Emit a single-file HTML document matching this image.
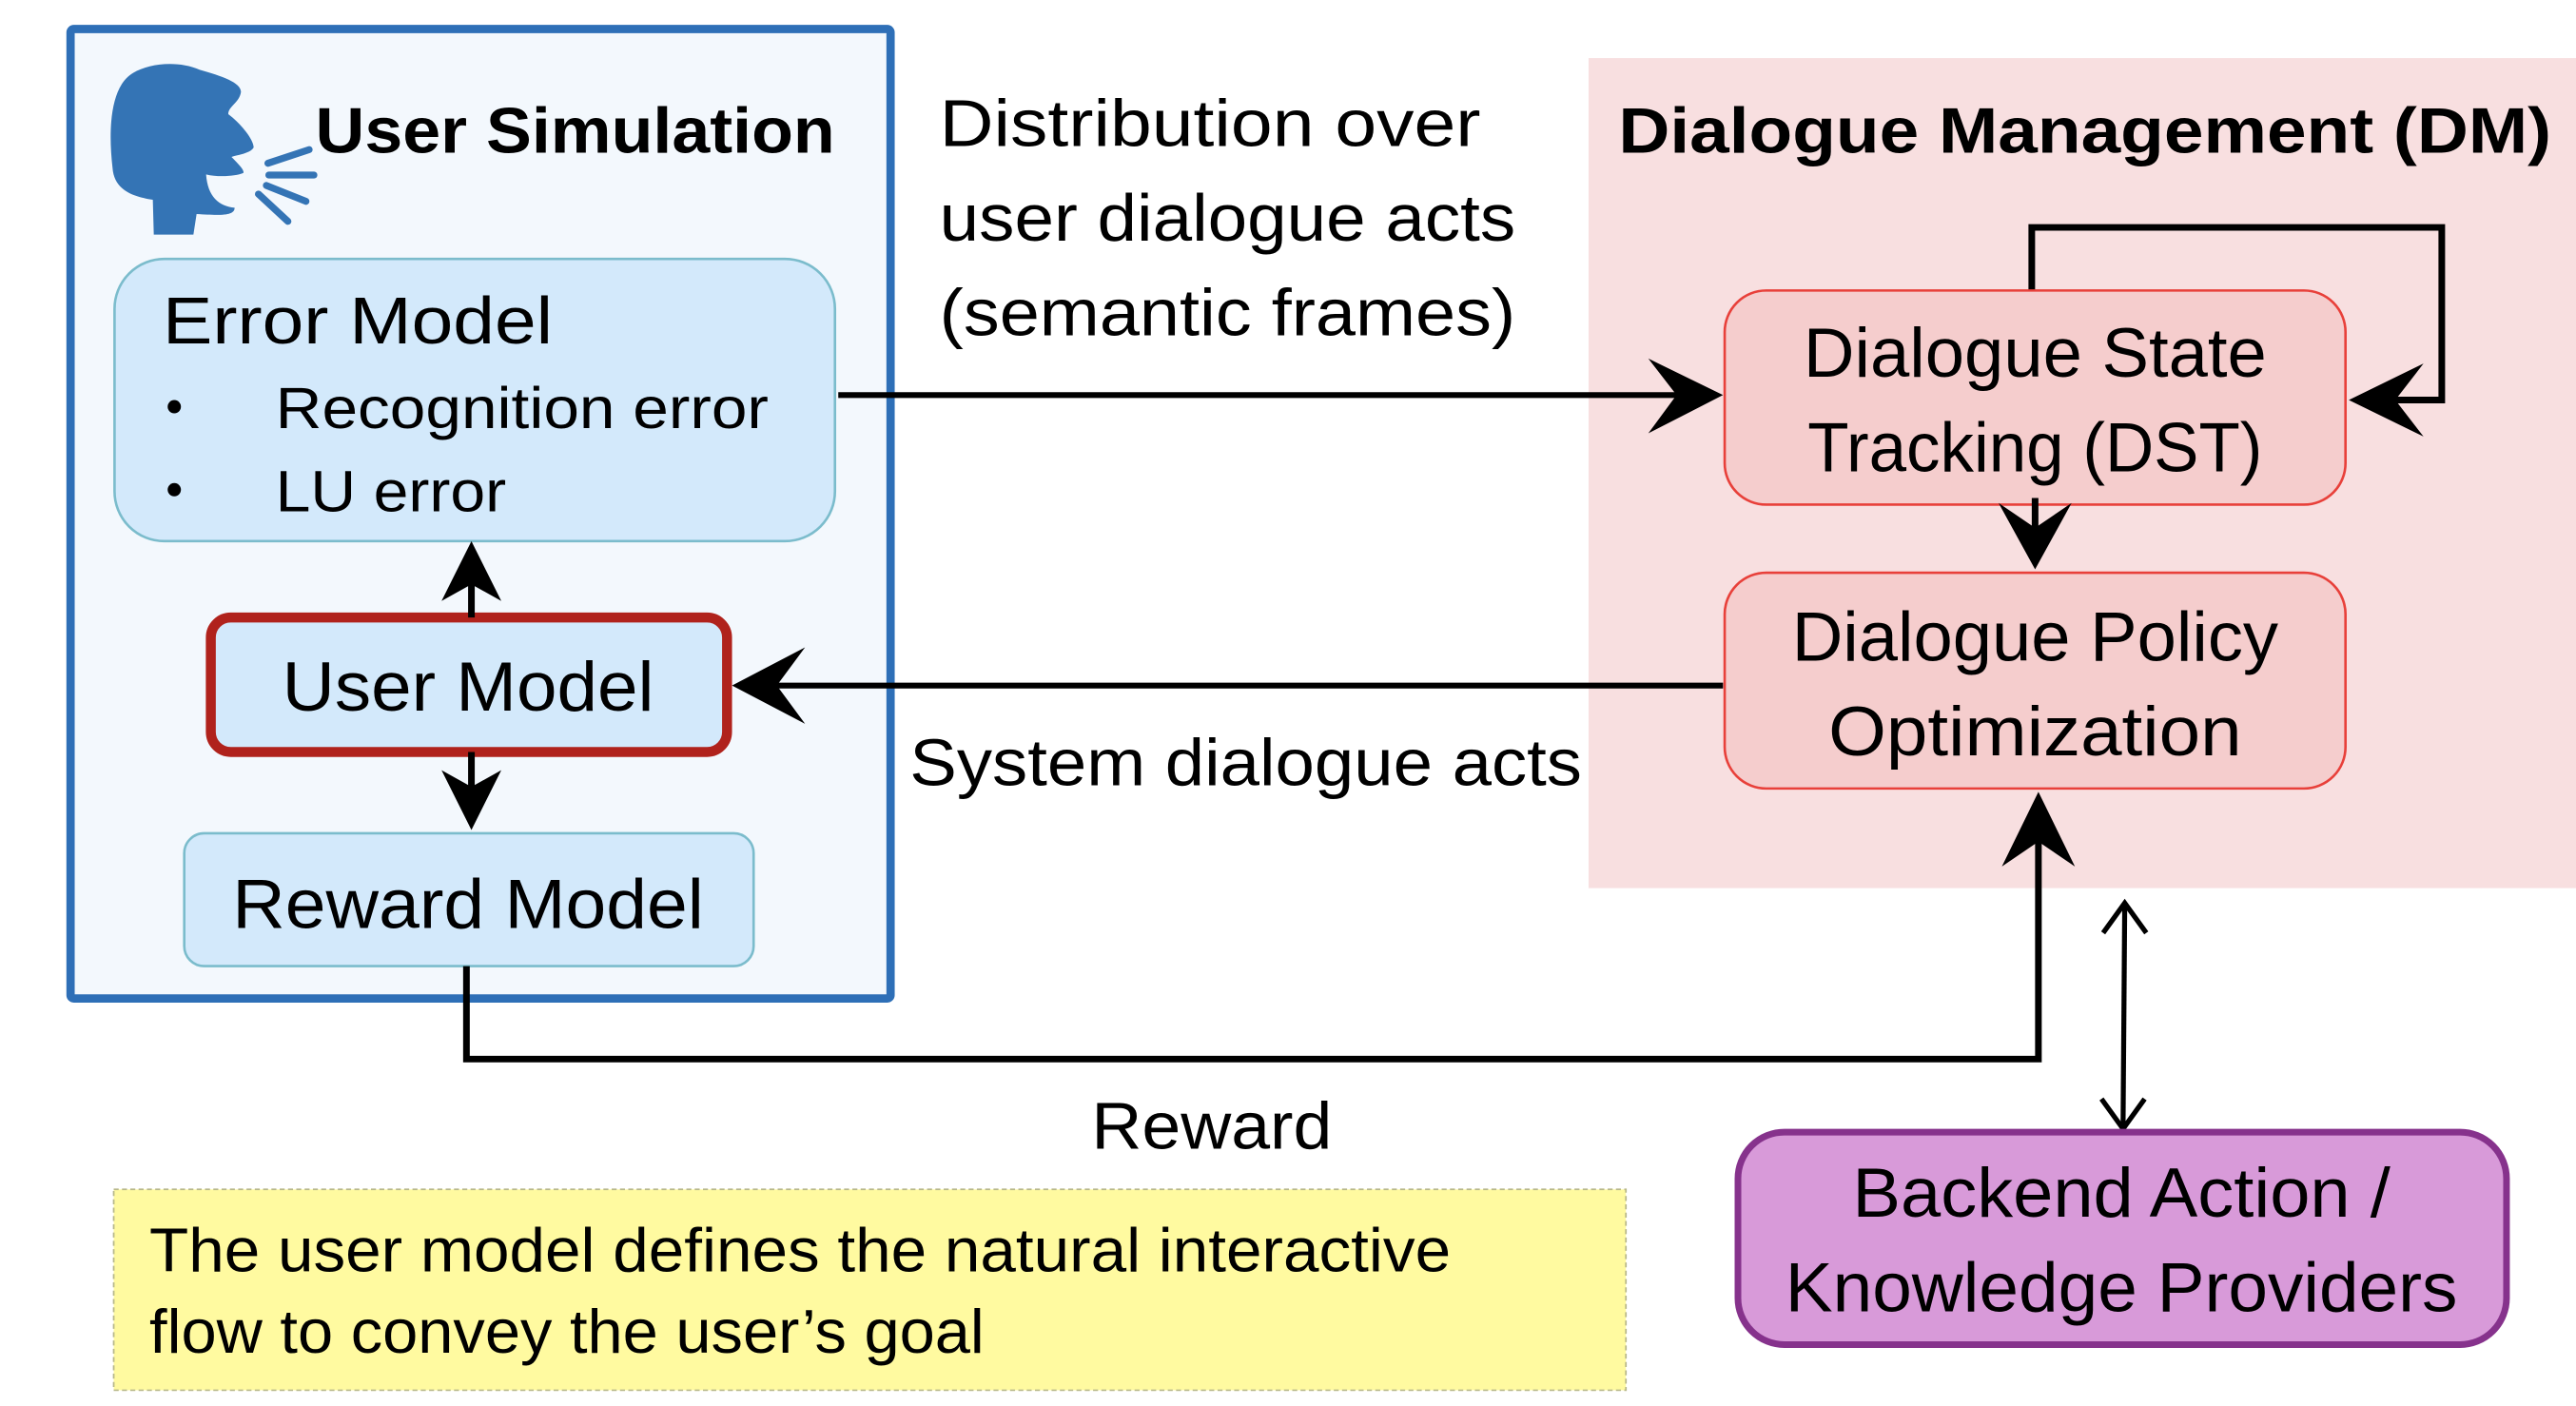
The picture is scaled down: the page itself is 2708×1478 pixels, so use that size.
<!DOCTYPE html>
<html><head><meta charset="utf-8"><style>
html,body{margin:0;padding:0;background:#fff;}
svg{display:block;}
text{font-family:"Liberation Sans",sans-serif;fill:#000;}
</style></head><body>
<svg width="2708" height="1478" viewBox="0 0 2708 1478" xmlns="http://www.w3.org/2000/svg">
<g transform="scale(1.745)">
  <!-- DM background -->
  <rect x="957" y="35" width="595" height="500" fill="#f8dfe0"/>
  <!-- User simulation box -->
  <rect x="42.5" y="17.5" width="494" height="584" fill="#f3f8fd" stroke="#2e6fb7" stroke-width="5" rx="2"/>
  <text x="190" y="92" font-size="39" font-weight="bold" textLength="313" lengthAdjust="spacingAndGlyphs">User Simulation</text>

  <!-- Error model -->
  <rect x="69" y="156" width="434" height="170" rx="30" fill="#d3e9fb" stroke="#7bbccc" stroke-width="1.5"/>
  <text x="98" y="207" font-size="40" textLength="235" lengthAdjust="spacingAndGlyphs">Error Model</text>
  <circle cx="105" cy="245" r="4"/>
  <circle cx="105" cy="295" r="4"/>
  <text x="166" y="258" font-size="35" textLength="297" lengthAdjust="spacingAndGlyphs">Recognition error</text>
  <text x="166" y="308" font-size="35" textLength="139" lengthAdjust="spacingAndGlyphs">LU error</text>

  <!-- User model -->
  <rect x="127" y="372" width="311" height="81" rx="12" fill="#d3e9fb" stroke="#b0221c" stroke-width="6"/>
  <text x="282" y="428" font-size="42" text-anchor="middle" textLength="224" lengthAdjust="spacingAndGlyphs">User Model</text>

  <!-- Reward model -->
  <rect x="111" y="502" width="343" height="80" rx="12" fill="#d3e9fb" stroke="#7bbccc" stroke-width="1.5"/>
  <text x="282" y="559" font-size="42" text-anchor="middle" textLength="284" lengthAdjust="spacingAndGlyphs">Reward Model</text>

  <!-- double arrows in user sim -->
  <line x1="284" y1="335" x2="284" y2="372" stroke="#000" stroke-width="4"/>
  <polygon points="284,326 302,362 284,352 266,362" fill="#000"/>
  <line x1="284" y1="453" x2="284" y2="490" stroke="#000" stroke-width="4"/>
  <polygon points="284,500 302,464 284,474 266,464" fill="#000"/>

  <!-- Distribution text -->
  <text x="566" y="88" font-size="40" textLength="326" lengthAdjust="spacingAndGlyphs">Distribution over</text>
  <text x="566" y="145" font-size="40" textLength="347" lengthAdjust="spacingAndGlyphs">user dialogue acts</text>
  <text x="566" y="202" font-size="40" textLength="347" lengthAdjust="spacingAndGlyphs">(semantic frames)</text>

  <!-- arrow error -> DST -->
  <line x1="505" y1="238" x2="1020" y2="238" stroke="#000" stroke-width="3.5"/>
  <polygon points="1038,238 993,216 1010,238 993,261" fill="#000"/>

  <!-- DM title -->
  <text x="975" y="92" font-size="39" font-weight="bold" textLength="562" lengthAdjust="spacingAndGlyphs">Dialogue Management (DM)</text>

  <!-- DST loop -->
  <polyline points="1224,176 1224,137 1471,137 1471,241 1430,241" fill="none" stroke="#000" stroke-width="4"/>
  <polygon points="1415,241 1460,219 1443,241 1460,263" fill="#000"/>

  <!-- DST box -->
  <rect x="1039" y="175" width="374" height="129" rx="25" fill="#f5cdcd" stroke="#e8403a" stroke-width="1.5"/>
  <text x="1226" y="227" font-size="42" text-anchor="middle" textLength="279" lengthAdjust="spacingAndGlyphs">Dialogue State</text>
  <text x="1226" y="284" font-size="42" text-anchor="middle" textLength="274" lengthAdjust="spacingAndGlyphs">Tracking (DST)</text>

  <!-- DST -> policy -->
  <line x1="1226" y1="300" x2="1226" y2="330" stroke="#000" stroke-width="4"/>
  <polygon points="1226,343 1248,303 1226,318 1204,303" fill="#000"/>

  <!-- Policy box -->
  <rect x="1039" y="345" width="374" height="130" rx="25" fill="#f5cdcd" stroke="#e8403a" stroke-width="1.5"/>
  <text x="1226" y="398" font-size="42" text-anchor="middle" textLength="293" lengthAdjust="spacingAndGlyphs">Dialogue Policy</text>
  <text x="1226" y="455" font-size="42" text-anchor="middle" textLength="249" lengthAdjust="spacingAndGlyphs">Optimization</text>

  <!-- policy -> user model -->
  <line x1="1038" y1="413" x2="460" y2="413" stroke="#000" stroke-width="3.5"/>
  <polygon points="441,413 485,390 468,413 485,436" fill="#000"/>
  <text x="548" y="473" font-size="40" textLength="405" lengthAdjust="spacingAndGlyphs">System dialogue acts</text>

  <!-- Reward path -->
  <polyline points="281,582 281,638 1228,638 1228,495" fill="none" stroke="#000" stroke-width="4"/>
  <polygon points="1228,477 1250,522 1228,507 1206,522" fill="#000"/>
  <text x="730" y="692" font-size="40" text-anchor="middle" textLength="145" lengthAdjust="spacingAndGlyphs">Reward</text>

  <!-- backend double arrow -->
  <line x1="1280" y1="545" x2="1279" y2="678" stroke="#000" stroke-width="3"/>
  <polyline points="1267,562 1280,544 1293,562" fill="none" stroke="#000" stroke-width="3"/>
  <polyline points="1266,662 1279,680 1292,662" fill="none" stroke="#000" stroke-width="3"/>

  <!-- Backend box -->
  <rect x="1047" y="682" width="463" height="128" rx="28" fill="#d89ad9" stroke="#86328c" stroke-width="4"/>
  <text x="1278" y="733" font-size="42" text-anchor="middle" textLength="324" lengthAdjust="spacingAndGlyphs">Backend Action /</text>
  <text x="1278" y="790" font-size="42" text-anchor="middle" textLength="405" lengthAdjust="spacingAndGlyphs">Knowledge Providers</text>

  <!-- Yellow note -->
  <rect x="68.5" y="716.5" width="911" height="121" fill="#fffaa0" stroke="#b8b88a" stroke-width="1" stroke-dasharray="3,2"/>
  <text x="90" y="766" font-size="37" textLength="784" lengthAdjust="spacingAndGlyphs">The user model defines the natural interactive</text>
  <text x="90" y="815" font-size="37" textLength="503" lengthAdjust="spacingAndGlyphs">flow to convey the user’s goal</text>
</g>

<!-- head icon in actual coords -->
<g transform="translate(100,50) scale(0.3333)" fill="#3474b5">
  <path d="M55,380 C40,250 50,120 120,80 C170,50 260,40 330,70 C400,90 460,110 460,140 C455,175 420,185 420,210 C460,240 500,290 500,315 C490,335 440,340 430,345 C450,365 470,385 468,395 C450,405 390,410 350,400 C355,470 390,500 440,505 C440,530 400,530 320,525 L310,590 L185,590 L182,480 C120,470 60,450 55,380 Z"/>
</g>
<g transform="translate(100,50) scale(0.3333)" stroke="#3474b5" stroke-width="22" stroke-linecap="round">
  <line x1="545" y1="365" x2="675" y2="322"/>
  <line x1="548" y1="402" x2="690" y2="402"/>
  <line x1="540" y1="435" x2="665" y2="485"/>
  <line x1="515" y1="462" x2="608" y2="548"/>
</g>
</svg>
</body></html>
